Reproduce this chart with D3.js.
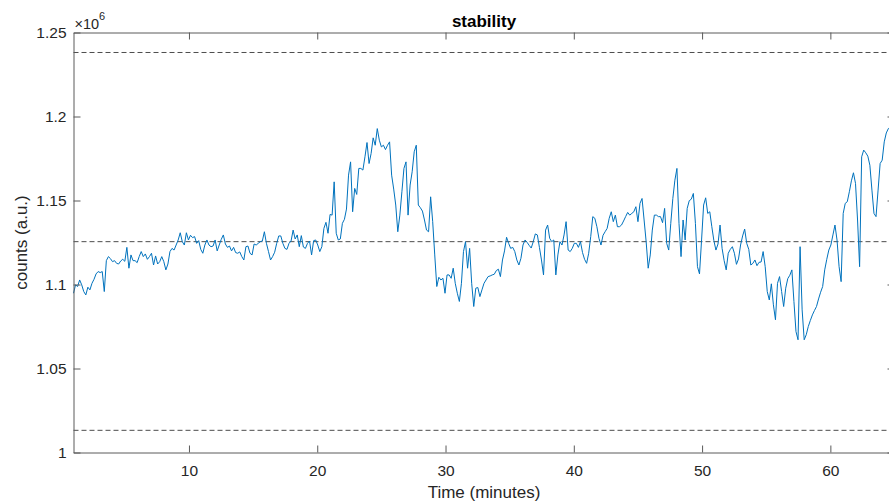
<!DOCTYPE html>
<html><head><meta charset="utf-8">
<script src="https://cdn.jsdelivr.net/npm/d3@7"></script>
<style>body{margin:0;background:#fff}svg{display:block;font-family:"Liberation Sans",Arial,sans-serif}</style>
</head><body><svg id="c" width="889" height="503"></svg>
<script>
const title = "stability";
const xLabel = "Time (minutes)";
const yLabel = "counts (a.u.)";
const xTicks = [10, 20, 30, 40, 50, 60];
const yTicks = [1, 1.05, 1.1, 1.15, 1.2, 1.25];
const yTickLabels = ["1", "1.05", "1.1", "1.15", "1.2", "1.25"];
const yExponent = "6";
const xDomain = [1, 65];
const yDomain = [1, 1.25];
// horizontal reference levels (mean and ±10%), in units of 10^6 counts
const refLevels = [1.2381, 1.1255, 1.0132];
// acquisition: first sample at 1 min, one sample every 0.16 min
const startMinute = 1, sampleMinutes = 0.16;
// counts in units of 10^6
const counts = [
// 0-
1.0948,1.0998,1.0988,1.1027,1.0998,1.0958,1.0938,1.0984,1.0968,1.1007,
1.1031,1.1063,1.1077,1.1071,1.1077,1.0958,1.1142,1.1166,1.1154,1.1136,
1.1142,1.1126,1.1122,1.1140,1.1150,1.1138,1.1221,1.1097,1.1176,1.1142,
1.1142,1.1130,1.1166,1.1196,1.1166,1.1182,1.1150,1.1166,1.1186,1.1116,
1.1170,1.1122,1.1136,1.1166,1.1136,1.1087,1.1122,1.1196,1.1215,1.1205,
1.1235,1.1265,1.1308,1.1255,1.1235,1.1308,1.1265,1.1293,1.1279,1.1285,
1.1245,1.1261,1.1209,1.1186,1.1235,1.1265,1.1235,1.1225,1.1229,1.1265,
1.1200,1.1235,1.1269,1.1295,1.1241,1.1221,1.1229,1.1200,1.1221,1.1190,
1.1186,1.1194,1.1166,1.1146,1.1225,1.1229,1.1186,1.1176,1.1241,1.1235,
1.1245,1.1255,1.1259,1.1314,1.1245,1.1196,1.1146,1.1166,1.1192,1.1245,
1.1289,1.1289,1.1245,
// 103-
1.1215,1.1209,1.1245,1.1259,1.1324,1.1271,1.1295,1.1225,1.1291,1.1223,
1.1215,1.1245,1.1259,1.1176,1.1261,1.1265,1.1235,1.1196,1.1225,1.1334,
1.1370,1.1305,1.1417,1.1413,1.1611,1.1305,1.1265,1.1271,1.1364,1.1388,
1.1449,1.1651,1.1730,1.1433,1.1572,1.1536,1.1691,1.1691,1.1681,1.1760,
1.1845,1.1720,1.1780,1.1873,1.1829,1.1928,1.1859,1.1819,1.1829,1.1803,
1.1829,1.1849,1.1651,1.1568,1.1473,1.1314,1.1413,1.1552,1.1691,1.1730,
1.1413,1.1592,1.1671,1.1790,1.1829,1.1473,1.1457,1.1437,1.1384,1.1324,
1.1314,1.1522,1.1374,1.1176,1.0988,1.1043,1.1027,1.1037,1.0948,1.1057,
1.1057,1.1037,1.1097,1.1007,1.0948,1.0899,1.1007,1.1196,1.1255,1.1097,
1.1215,1.1007,1.0869,1.0978,1.0982,1.0928,1.0968,1.1007,1.1027,1.1047,
// 203-
1.1051,1.1057,1.1061,1.1083,1.1091,1.1047,1.1146,1.1200,1.1281,1.1245,
1.1215,1.1221,1.1196,1.1146,1.1116,1.1156,1.1235,1.1265,1.1251,1.1233,
1.1217,1.1255,1.1301,1.1295,1.1221,1.1146,1.1057,1.1324,1.1354,1.1275,
1.1255,1.1265,1.1057,1.1176,1.1255,1.1235,1.1295,1.1374,1.1205,1.1196,
1.1215,1.1245,1.1245,1.1221,1.1255,1.1190,1.1150,1.1126,1.1186,1.1285,
1.1404,1.1394,1.1344,1.1275,1.1235,1.1293,1.1314,1.1334,1.1394,1.1433,
1.1374,1.1413,1.1344,1.1344,1.1354,1.1378,1.1404,1.1429,1.1413,1.1423,
1.1433,1.1463,1.1374,1.1483,1.1512,1.1384,1.1255,1.1097,1.1176,1.1324,
1.1413,1.1413,1.1404,1.1404,1.1368,1.1453,1.1245,1.1205,1.1364,1.1512,
1.1621,1.1691,1.1364,1.1166,1.1384,
// 298-
1.1265,1.1453,1.1499,1.1508,1.1542,1.1364,1.1106,1.1063,1.1265,1.1473,
1.1516,1.1423,1.1433,1.1344,1.1261,1.1205,1.1241,1.1354,1.1215,1.1142,
1.1087,1.1186,1.1209,1.1225,1.1186,1.1120,1.1152,1.1235,1.1289,1.1330,
1.1245,1.1209,1.1116,1.1126,1.1146,1.1112,1.1132,1.1134,1.1196,1.1106,
1.0958,1.0908,1.1004,1.0879,1.0790,1.1007,1.1047,1.0958,1.0869,1.0978,
1.1035,1.1055,1.1087,1.0899,1.0720,1.0671,1.1225,1.0849,1.0671,1.0701,
1.0750,1.0786,1.0819,1.0845,1.0869,1.0914,1.0954,1.0988,1.1087,1.1150,
1.1205,1.1235,1.1295,1.1354,1.1265,1.1106,1.1017,1.1423,1.1483,1.1493,
1.1552,1.1617,1.1665,1.1602,1.1384,1.1106,1.1760,1.1800,1.1784,1.1764,
1.1710,1.1562,1.1423,1.1404,1.1562,1.1720,1.1740,1.1849,1.1902,1.1928,
1.1938,1.1948,1.1954
];
const minutes = counts.map((_, i) => startMinute + i * sampleMinutes);

const L = 73.5, R = 894.5, T = 32.5, B = 452.5;
const axisColor = "#5a5a5a", textColor = "#262626";
const svg = d3.select("#c");
const x = d3.scaleLinear().domain(xDomain).range([L, R]);
const y = d3.scaleLinear().domain(yDomain).range([B, T]);

// reference dashed lines
svg.append("g").selectAll("line").data(refLevels).join("line")
  .attr("x1", L).attr("x2", R)
  .attr("y1", d => y(d)).attr("y2", d => y(d))
  .attr("stroke", "#4d4d4d").attr("stroke-width", 1)
  .attr("stroke-dasharray", "5,3");

// data line
svg.append("path")
  .datum(counts.map((c, i) => [minutes[i], c]))
  .attr("fill", "none").attr("stroke", "#0072BD").attr("stroke-width", 1)
  .attr("stroke-linejoin", "round")
  .attr("d", d3.line().x(d => x(d[0])).y(d => y(d[1])));

function styleAxis(g) {
  g.selectAll("path,line").attr("stroke", axisColor);
  g.selectAll("text").attr("fill", textColor).attr("font-size", "15.5px")
    .attr("font-family", '"Liberation Sans",Arial,sans-serif');
}
const fmtY = d => yTickLabels[yTicks.indexOf(d)];

svg.append("g").attr("transform", `translate(0,${B})`)
  .call(d3.axisBottom(x).tickValues(xTicks).tickSize(-7).tickSizeOuter(0).tickPadding(12))
  .call(styleAxis);
svg.append("g").attr("transform", `translate(0,${T})`)
  .call(d3.axisTop(x).tickValues(xTicks).tickSize(-7).tickSizeOuter(0).tickFormat(""))
  .call(styleAxis);
svg.append("g").attr("transform", `translate(${L},0)`)
  .call(d3.axisLeft(y).tickValues(yTicks).tickSize(-7).tickSizeOuter(0).tickPadding(7).tickFormat(fmtY))
  .call(styleAxis);
svg.append("g").attr("transform", `translate(${R},0)`)
  .call(d3.axisRight(y).tickValues(yTicks).tickSize(-7).tickSizeOuter(0).tickFormat(""))
  .call(styleAxis);

// exponent
const ex = svg.append("text").attr("x", L + 1).attr("y", 28.5)
  .attr("fill", textColor).attr("font-size", "14.5px");
ex.append("tspan").text("\u00D710");
ex.append("tspan").attr("dy", -9).attr("font-size", "11px").text(yExponent);

// title
svg.append("text").attr("x", (L + R) / 2).attr("y", 26.5).attr("text-anchor", "middle")
  .attr("font-weight", "bold").attr("font-size", "17px").attr("fill", "#000").text(title);
// x label
svg.append("text").attr("x", (L + R) / 2).attr("y", 498).attr("text-anchor", "middle")
  .attr("font-size", "17px").attr("fill", textColor).text(xLabel);
// y label
svg.append("text").attr("transform", `translate(27,${(T + B) / 2}) rotate(-90)`)
  .attr("text-anchor", "middle").attr("font-size", "17px").attr("fill", textColor).text(yLabel);
</script></body></html>
